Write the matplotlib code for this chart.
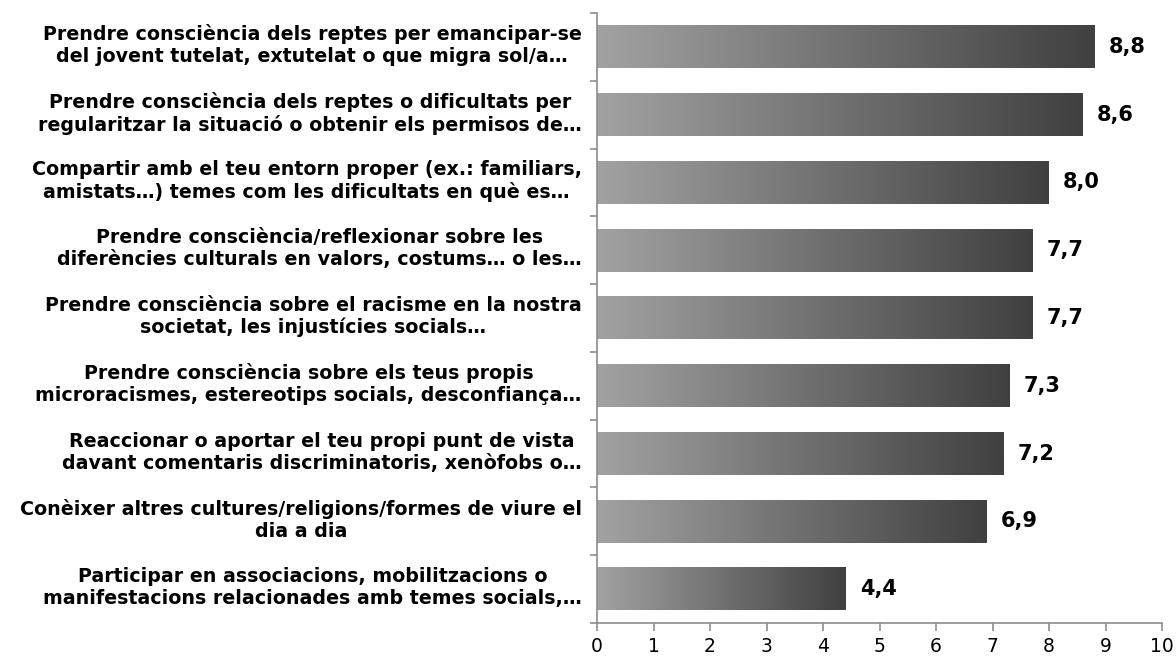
import numpy as np
import matplotlib.pyplot as plt
import matplotlib.transforms as mtransforms
from matplotlib.colors import LinearSegmentedColormap

labels = [
    "Prendre consciència dels reptes per emancipar-se\ndel jovent tutelat, extutelat o que migra sol/a…",
    "Prendre consciència dels reptes o dificultats per\nregularitzar la situació o obtenir els permisos de…",
    "Compartir amb el teu entorn proper (ex.: familiars,\namistats…) temes com les dificultats en què es…",
    "Prendre consciència/reflexionar sobre les\ndiferències culturals en valors, costums… o les…",
    "Prendre consciència sobre el racisme en la nostra\nsocietat, les injustícies socials…",
    "Prendre consciència sobre els teus propis\nmicroracismes, estereotips socials, desconfiança…",
    "Reaccionar o aportar el teu propi punt de vista\ndavant comentaris discriminatoris, xenòfobs o…",
    "Conèixer altres cultures/religions/formes de viure el\ndia a dia",
    "Participar en associacions, mobilitzacions o\nmanifestacions relacionades amb temes socials,…",
]
values = [8.8, 8.6, 8.0, 7.7, 7.7, 7.3, 7.2, 6.9, 4.4]
value_text = ["8,8", "8,6", "8,0", "7,7", "7,7", "7,3", "7,2", "6,9", "4,4"]
x_ticks = list(range(0, 11))

plt.rcParams["font.family"] = ["DejaVu Sans"]
cmap = LinearSegmentedColormap.from_list("bar_grad", ["#a2a2a2", "#404040"])
grad = np.linspace(0, 1, 256).reshape(1, -1)

fig = plt.figure(figsize=(11.76, 6.62), dpi=100)
ax = fig.add_axes([597 / 1176, 1 - 623 / 662, 565 / 1176, 610 / 662])

n = len(values)
bar_h = 0.63
for i, (v, t) in enumerate(zip(values, value_text)):
    y = n - 1 - i
    ax.imshow(grad, cmap=cmap, aspect="auto",
              extent=[0, v, y - bar_h / 2, y + bar_h / 2], zorder=2)
    ax.text(v + 0.25, y, t, va="center", ha="left", fontsize=15,
            fontweight="bold", color="black")

ax.set_xlim(0, 10)
ax.set_ylim(-0.5, n - 0.5)
ax.set_xticks(x_ticks)
ax.set_xticklabels([str(x) for x in x_ticks], fontsize=13.5)
ax.set_yticks(range(n))
ax.set_yticklabels(labels[::-1], fontsize=13.7, fontweight="bold",
                   multialignment="center", linespacing=1.2)
ax.set_yticks(np.arange(-0.5, n, 1), minor=True)
ax.tick_params(axis="y", which="major", length=0, pad=11)
ax.tick_params(axis="y", which="minor", length=5, color="#8c8c8c", width=1.2)
ax.tick_params(axis="x", length=6, color="#8c8c8c", width=1.2, pad=4)

# nudge the category labels up a little, as in the original
shift = mtransforms.ScaledTranslation(0, 5 / 100, fig.dpi_scale_trans)
for lab in ax.get_yticklabels():
    lab.set_transform(lab.get_transform() + shift)

for s in ["top", "right"]:
    ax.spines[s].set_visible(False)
for s in ["left", "bottom"]:
    ax.spines[s].set_color("#8c8c8c")
    ax.spines[s].set_linewidth(1.2)

fig.savefig("out.png", dpi=100)
